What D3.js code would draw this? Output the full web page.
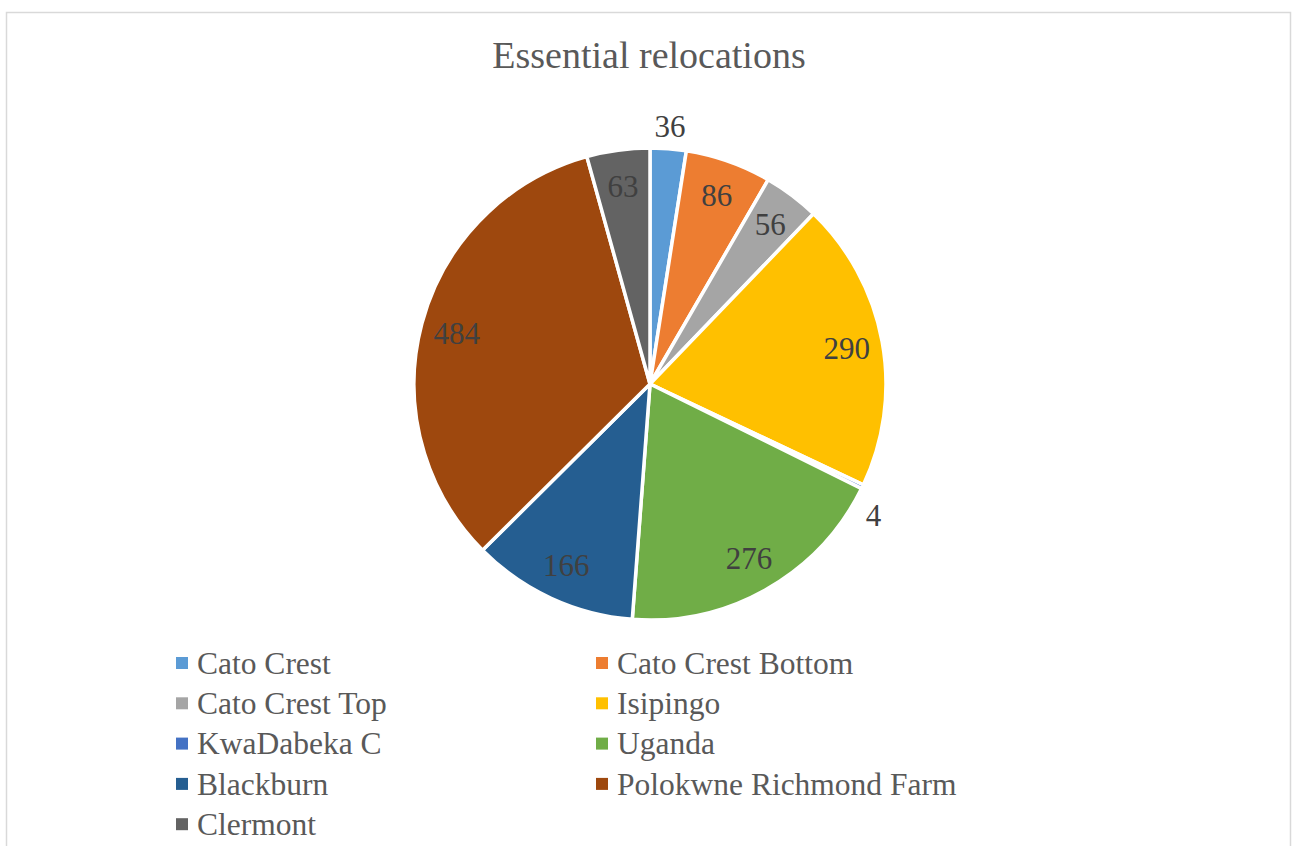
<!DOCTYPE html>
<html>
<head>
<meta charset="utf-8">
<script src="https://cdn.jsdelivr.net/npm/d3@7"></script>
<style>
  html, body { margin: 0; padding: 0; background: #fff; }
  svg { display: block; }
  svg text { font-family: "Liberation Serif", "Tinos", "Times New Roman", Times, "DejaVu Serif", serif; }
</style>
</head>
<body>
<svg id="chart" width="1297" height="846"></svg>
<script>
// Relocations per area
const areas = ["Cato Crest", "Cato Crest Bottom", "Cato Crest Top", "Isipingo", "KwaDabeka C",
               "Uganda", "Blackburn", "Polokwne Richmond Farm", "Clermont"];
const relocations = [36, 86, 56, 290, 4, 276, 166, 484, 63];
const sliceColors = ["#5B9BD5", "#ED7D31", "#A5A5A5", "#FFC000", "#4472C4",
                     "#70AD47", "#255E91", "#9E480E", "#636363"];
// Slices too thin to hold their own label get it outside the pie
const outsideLabel = [true, false, false, false, true, false, false, false, false];

const W = 1297, H = 846;
const svg = d3.select("#chart");

// Chart frame
svg.append("rect")
  .attr("x", 6.5).attr("y", 12.5)
  .attr("width", 1284).attr("height", 900)
  .attr("fill", "#fff").attr("stroke", "#d9d9d9").attr("stroke-width", 1.5);

// Title
svg.append("text")
  .attr("x", 649).attr("y", 68)
  .attr("text-anchor", "middle")
  .attr("font-size", 38)
  .attr("fill", "#595959")
  .text("Essential relocations");

// Pie
const cx = 650, cy = 384, R = 236;
const data = areas.map((name, i) => ({ name, value: relocations[i], color: sliceColors[i], outside: outsideLabel[i] }));

const pie = d3.pie().value(d => d.value).sort(null);
const arcs = pie(data);
const arc = d3.arc().innerRadius(0).outerRadius(R);

const g = svg.append("g").attr("transform", `translate(${cx},${cy})`);

g.selectAll("path.slice")
  .data(arcs)
  .join("path")
  .attr("class", "slice")
  .attr("d", arc)
  .attr("fill", d => d.data.color)
  .attr("stroke", "#fff")
  .attr("stroke-width", 3.5)
  .attr("stroke-linejoin", "round");

g.selectAll("text.value")
  .data(arcs)
  .join("text")
  .attr("class", "value")
  .attr("transform", d => {
    // outside labels sit a little further round, clear of the neighbouring slice
    const mid = (d.startAngle + d.endAngle) / 2;
    const a = d.data.outside && d.index > 0 ? mid + 0.08 : mid;
    const r = d.data.outside ? 259 : 200;
    return `translate(${r * Math.sin(a)},${-r * Math.cos(a)})`;
  })
  .attr("text-anchor", "middle")
  .attr("dy", "0.35em")
  .attr("font-size", 31)
  .attr("fill", "#404040")
  .text(d => d.data.value);

// Legend: two columns, row-major
const legendX = [176, 596], legendY0 = 663, rowH = 40.3;
const leg = svg.append("g");
const items = leg.selectAll("g.item")
  .data(data)
  .join("g")
  .attr("class", "item")
  .attr("transform", (d, i) => `translate(${legendX[i % 2]},${legendY0 + Math.floor(i / 2) * rowH})`);

items.append("rect")
  .attr("x", 0).attr("y", -6)
  .attr("width", 12).attr("height", 12)
  .attr("fill", d => d.color);

items.append("text")
  .attr("x", 21).attr("y", 0)
  .attr("dy", "0.34em")
  .attr("font-size", 31.5)
  .attr("fill", "#595959")
  .text(d => d.name);
</script>
</body>
</html>
